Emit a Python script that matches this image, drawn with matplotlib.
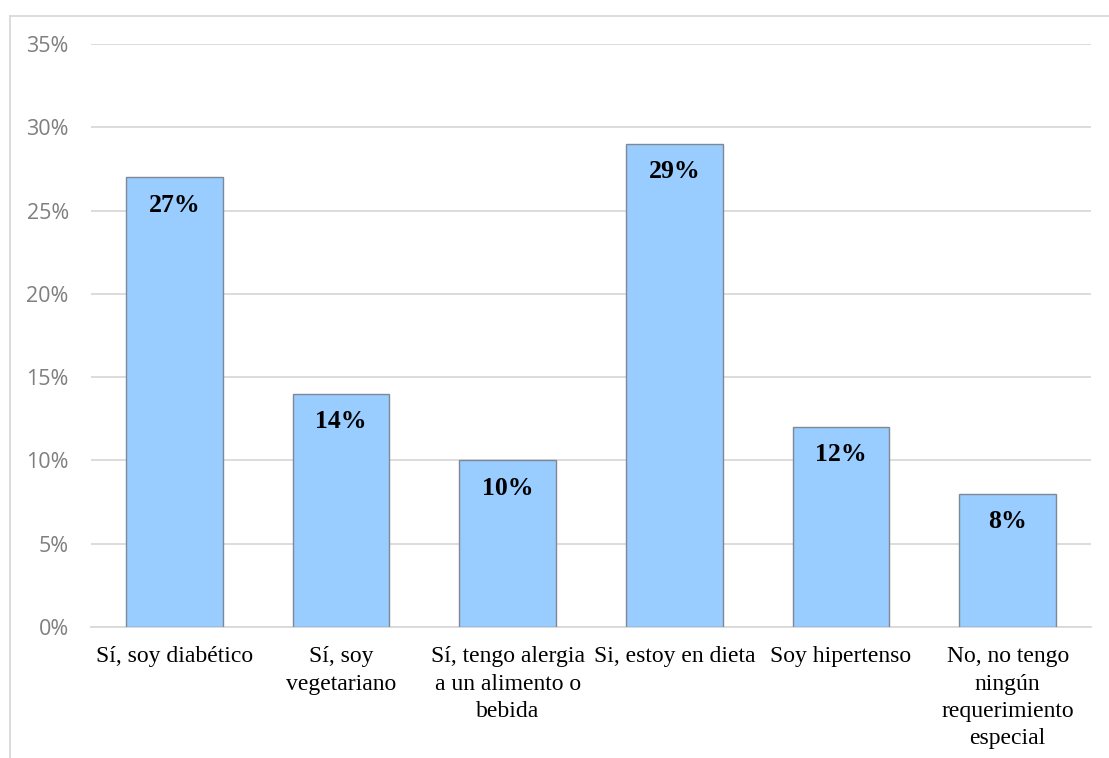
import matplotlib
matplotlib.use('Agg')
import matplotlib.pyplot as plt
from matplotlib.lines import Line2D
from matplotlib.ticker import FuncFormatter

categories = [
    'Sí, soy diabético',
    'Sí, soy\nvegetariano',
    'Sí, tengo alergia\na un alimento o\nbebida',
    'Si, estoy en dieta',
    'Soy hipertenso',
    'No, no tengo\nningún\nrequerimiento\nespecial',
]
values = [27, 14, 10, 29, 12, 8]
yticks = [0, 5, 10, 15, 20, 25, 30, 35]

fig = plt.figure(figsize=(11.09, 7.58), dpi=100)
ax = fig.add_axes([91 / 1109, 1 - 627 / 758, 1000 / 1109, 583 / 758])

x = range(len(categories))
bars = ax.bar(x, values, width=0.58, color='#99CCFF', edgecolor='#7f8894',
              linewidth=1, zorder=3)

for b, v in zip(bars, values):
    ax.annotate(f'{v}%', (b.get_x() + b.get_width() / 2, v),
                xytext=(0, -20), textcoords='offset points',
                ha='center', va='center', fontsize=18.5, fontweight='bold',
                family='Liberation Serif', zorder=4)

ax.set_xlim(-0.5, len(categories) - 0.5)
ax.set_ylim(0, 35)
ax.set_yticks(yticks)
ax.yaxis.set_major_formatter(FuncFormatter(lambda v, _: f'{v:.0f}%'))
ax.set_xticks(list(x))
ax.set_xticklabels(categories, family='Liberation Serif', fontsize=17,
                   linespacing=1.38, va='top')
ax.tick_params(axis='x', length=0, pad=14)
ax.tick_params(axis='y', length=0, pad=16, labelsize=15.5, labelcolor='#7f7f7f')
for lbl in ax.get_yticklabels():
    lbl.set_family('Open Sans')

ax.grid(axis='y', color='#d9d9d9', linewidth=1.3, zorder=0)
for side in ['top', 'right', 'left']:
    ax.spines[side].set_visible(False)
ax.spines['bottom'].set_color('#d9d9d9')
ax.spines['bottom'].set_linewidth(1.3)

# outer chart frame
fig.add_artist(Line2D([10 / 1109, 10 / 1109], [0, 1 - 16 / 758],
                      color='#d9d9d9', linewidth=1.3))
fig.add_artist(Line2D([10 / 1109, 1108 / 1109], [1 - 16 / 758, 1 - 16 / 758],
                      color='#d9d9d9', linewidth=1.3))

fig.savefig('out.png', dpi=100)
plt.close(fig)
